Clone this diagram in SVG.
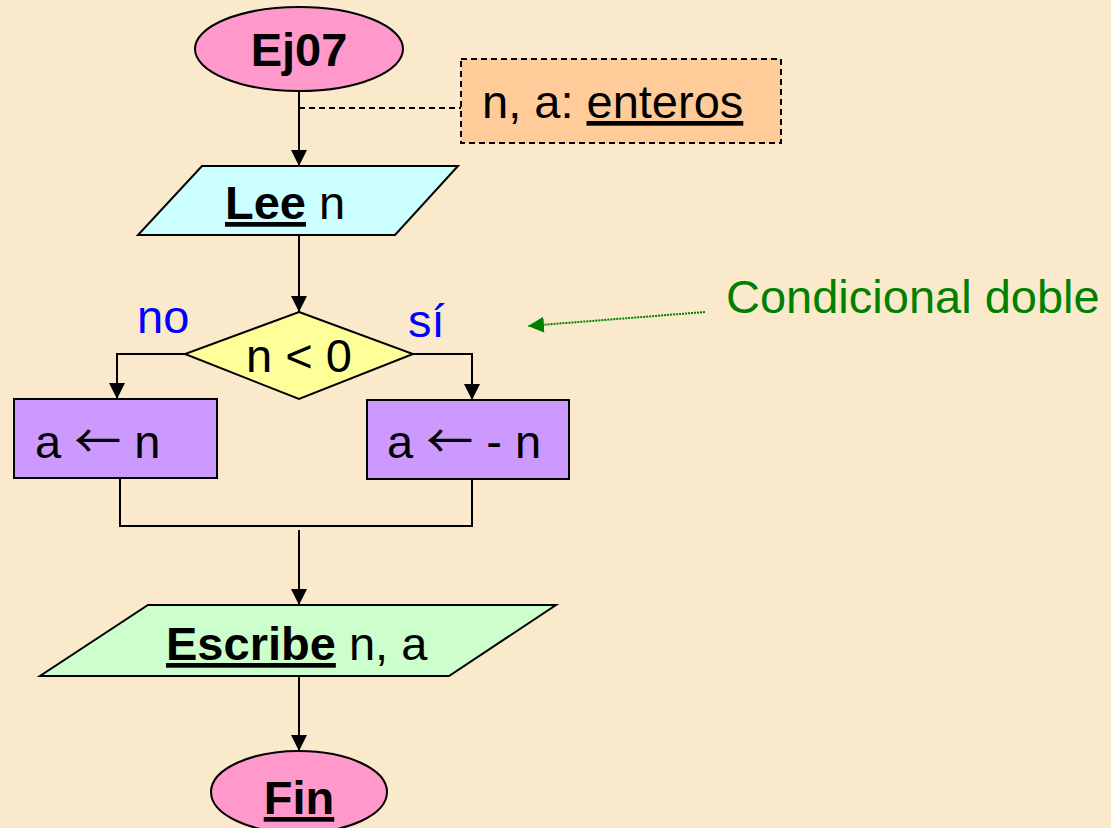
<svg xmlns="http://www.w3.org/2000/svg" width="1111" height="828" viewBox="0 0 1111 828">
<style>
text{font-family:"Liberation Sans",Arial,sans-serif;font-size:47px;fill:#000}
.b{font-weight:bold}
.u{text-decoration:underline}
.ar{font-family:"Noto Sans CJK JP","DejaVu Sans",sans-serif;font-size:47px}
.s{stroke:#000;stroke-width:2}
.c{fill:none;stroke:#000;stroke-width:2}
</style>
<defs>
<marker id="ahk" viewBox="0 0 10 10" refX="10" refY="5" markerWidth="16" markerHeight="16" markerUnits="userSpaceOnUse" orient="auto">
<path d="M0,0 L10,5 L0,10 z" fill="#000"/>
</marker>
<marker id="ahg" viewBox="0 0 10 10" refX="10" refY="5" markerWidth="16" markerHeight="16" markerUnits="userSpaceOnUse" orient="auto">
<path d="M0,0 L10,5 L0,10 z" fill="#008000"/>
</marker>
</defs>
<rect width="1111" height="828" fill="#FAEACB"/>
<g id="connectors">
<path class="c" d="M299,91 L299,166" marker-end="url(#ahk)"/>
<path d="M299,108 L461,108" fill="none" stroke="#000" stroke-width="2" stroke-dasharray="6,4"/>
<path class="c" d="M299,235 L299,312" marker-end="url(#ahk)"/>
<path class="c" d="M185,354 L117,354 L117,399" marker-end="url(#ahk)"/>
<path class="c" d="M413,354 L472,354 L472,400" marker-end="url(#ahk)"/>
<path class="c" d="M120,478 L120,526 L472,526 L472,479"/>
<path class="c" d="M299,530 L299,605" marker-end="url(#ahk)"/>
<path class="c" d="M299,676 L299,751" marker-end="url(#ahk)"/>
<path d="M705,312 L528,326" fill="none" stroke="#008000" stroke-width="2" stroke-dasharray="2,1" marker-end="url(#ahg)"/>
</g>
<g id="start">
<ellipse class="s" cx="299" cy="49" rx="104" ry="42" fill="#FF99CC"/>
<text class="b" x="299" y="66" text-anchor="middle">Ej07</text>
</g>
<g id="note">
<rect x="461" y="59" width="320" height="84" fill="#FFCC99" stroke="#000" stroke-width="2" stroke-dasharray="6,4"/>
<text x="482" y="118">n, a: <tspan class="u">enteros</tspan></text>
</g>
<g id="read">
<polygon class="s" points="202,166 458,166 395,235 138,235" fill="#CCFFFF"/>
<text x="225" y="219"><tspan class="b u">Lee</tspan> n</text>
</g>
<g id="decision">
<polygon class="s" points="299,312 413,354 299,399 185,354" fill="#FFFF99"/>
<text x="299" y="372" text-anchor="middle">n &lt; 0</text>
<text x="137" y="333" style="fill:#0000FF">no</text>
<text x="408" y="337" style="fill:#0000FF">sí</text>
</g>
<g id="assign-no">
<rect class="s" x="14" y="399" width="203" height="79" fill="#CC99FF"/>
<text x="35" y="458">a <tspan class="ar">←</tspan> n</text>
</g>
<g id="assign-si">
<rect class="s" x="367" y="400" width="202" height="79" fill="#CC99FF"/>
<text x="387" y="458">a <tspan class="ar">←</tspan> - n</text>
</g>
<g id="write">
<polygon class="s" points="148,605 556,605 449,676 40,676" fill="#CCFFCC"/>
<text x="166" y="660"><tspan class="b u">Escribe</tspan> n, a</text>
</g>
<g id="end">
<ellipse class="s" cx="299" cy="792" rx="88" ry="41" fill="#FF99CC"/>
<text class="b u" x="299" y="814" text-anchor="middle">Fin</text>
</g>
<g id="label">
<text x="726" y="313" style="fill:#008000">Condicional doble</text>
</g>
</svg>
